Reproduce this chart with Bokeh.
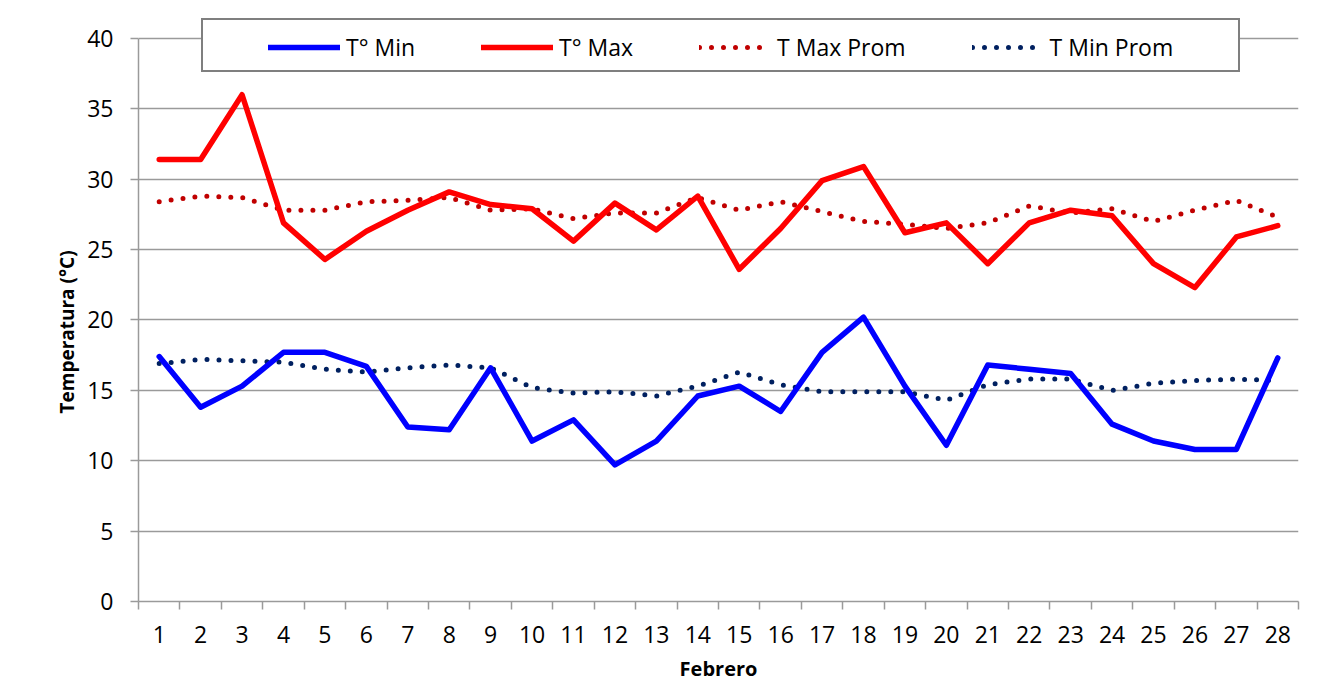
from bokeh.plotting import figure
from bokeh.models import FixedTicker, Legend, LegendItem, ColumnDataSource, Title
from bokeh.embed import file_html
from bokeh.resources import INLINE

# ---- data ----
days = list(range(1, 29))
t_min = [17.4, 13.8, 15.3, 17.7, 17.7, 16.7, 12.4, 12.2, 16.6, 11.4, 12.9, 9.7, 11.4, 14.6,
         15.3, 13.5, 17.7, 20.2, 15.3, 11.1, 16.8, 16.5, 16.2, 12.6, 11.4, 10.8, 10.8, 17.3]
t_max = [31.4, 31.4, 36.0, 26.9, 24.3, 26.3, 27.8, 29.1, 28.2, 27.9, 25.6, 28.3, 26.4, 28.8,
         23.6, 26.5, 29.9, 30.9, 26.2, 26.9, 24.0, 26.9, 27.8, 27.4, 24.0, 22.3, 25.9, 26.7]
t_max_prom = [28.4, 28.8, 28.7, 27.8, 27.8, 28.4, 28.5, 28.7, 27.8, 27.9, 27.2, 27.6, 27.6, 28.7,
              27.8, 28.4, 27.7, 27.0, 26.8, 26.5, 26.9, 28.1, 27.6, 27.9, 27.0, 27.8, 28.5, 27.3]
t_min_prom = [16.9, 17.2, 17.1, 17.0, 16.5, 16.3, 16.6, 16.8, 16.6, 15.2, 14.8, 14.9, 14.6, 15.3,
              16.3, 15.4, 14.9, 14.9, 14.9, 14.3, 15.4, 15.8, 15.8, 15.0, 15.5, 15.7, 15.8, 15.7]
y_ticks = [0, 5, 10, 15, 20, 25, 30, 35, 40]
series_names = ["T° Min", "T° Max", "T Max Prom", "T Min Prom"]
y_title = "Temperatura (°C)"
x_title = "Febrero"

src = ColumnDataSource(dict(day=days, tmin=t_min, tmax=t_max, tmaxp=t_max_prom, tminp=t_min_prom))

FONT = "Open Sans"
GRID = "#9a9a9a"

# frame: 0..40 spans 564 px; the frame extends 28 px above 40 to hold the legend box
TOP_PAD = 28
Y_TOP = 40 * (564 + TOP_PAD) / 564

p = figure(width=1312, height=684, output_backend="svg", toolbar_location=None,
           x_range=(0.5, 28.5), y_range=(0, Y_TOP),
           min_border_left=138, min_border_right=14, min_border_top=38 - TOP_PAD,
           min_border_bottom=82)
p.outline_line_color = None
p.background_fill_color = "white"

# lines
r_maxp = p.line("day", "tmaxp", source=src, line_color="#C00000", line_width=5,
                line_dash="0 12", line_cap="round")
r_minp = p.line("day", "tminp", source=src, line_color="#002060", line_width=5,
                line_dash="0 12", line_cap="round")
r_min = p.line("day", "tmin", source=src, line_color="#0000FF", line_width=5.5,
               line_join="round", line_cap="round")
r_max = p.line("day", "tmax", source=src, line_color="#FF0000", line_width=5.5,
               line_join="round", line_cap="round")

# axes
xax = p.xaxis[0]
xax.ticker = FixedTicker(ticks=days, minor_ticks=[d - 0.5 for d in days] + [28.5])
xax.major_tick_line_color = None
xax.minor_tick_line_color = GRID
xax.minor_tick_line_width = 1.5
xax.minor_tick_out = 8
xax.minor_tick_in = 0
xax.axis_line_color = GRID
xax.axis_line_width = 1.5
xax.major_label_text_font = FONT
xax.major_label_text_font_size = "23px"
xax.major_label_text_color = "black"
xax.major_label_standoff = 16
xax.axis_label = x_title
xax.axis_label_text_font = FONT
xax.axis_label_text_font_style = "bold"
xax.axis_label_text_font_size = "20px"
xax.axis_label_text_color = "black"
xax.axis_label_standoff = 9

yax = p.yaxis[0]
yax.ticker = FixedTicker(ticks=y_ticks, minor_ticks=[])
yax.bounds = (0, 40)
yax.major_tick_line_color = GRID
yax.major_tick_line_width = 1.5
yax.major_tick_out = 8
yax.major_tick_in = 0
yax.axis_line_color = GRID
yax.axis_line_width = 1.5
yax.major_label_text_font = FONT
yax.major_label_text_font_size = "23px"
yax.major_label_text_color = "black"
yax.major_label_standoff = 17

# y-axis title as a left-side title, positioned from the bottom of the frame
yt = Title(text=y_title, align="left", offset=188, standoff=9,
           text_font=FONT, text_font_style="bold", text_font_size="19px",
           text_color="black")
p.add_layout(yt, "left")

p.xgrid.grid_line_color = None
p.ygrid.grid_line_color = GRID
p.ygrid.grid_line_width = 1.5

# legend frame (empty item used only to draw the bordered box)
box = Legend(items=[LegendItem(label=" ", renderers=[])], location=(63, 529),
             orientation="horizontal", padding=0, spacing=0, margin=0,
             glyph_width=1035, glyph_height=50, label_width=0, label_height=0,
             label_standoff=0, label_text_font_size="1px",
             border_line_color="black", border_line_width=2,
             background_fill_color="white", background_fill_alpha=1.0)
p.add_layout(box, "center")

leg = Legend(items=[LegendItem(label=series_names[0], renderers=[r_min]),
                    LegendItem(label=series_names[1], renderers=[r_max]),
                    LegendItem(label=series_names[2], renderers=[r_maxp]),
                    LegendItem(label=series_names[3], renderers=[r_minp])],
             location=(130, 536), orientation="horizontal", padding=0, margin=0,
             spacing=66, glyph_width=72, glyph_height=36, label_height=36,
             label_standoff=6, label_text_font=FONT, label_text_font_size="23px",
             label_text_color="black",
             border_line_color=None, background_fill_alpha=0)
p.add_layout(leg, "center")

open("out.html", "w").write(file_html(p, INLINE))
